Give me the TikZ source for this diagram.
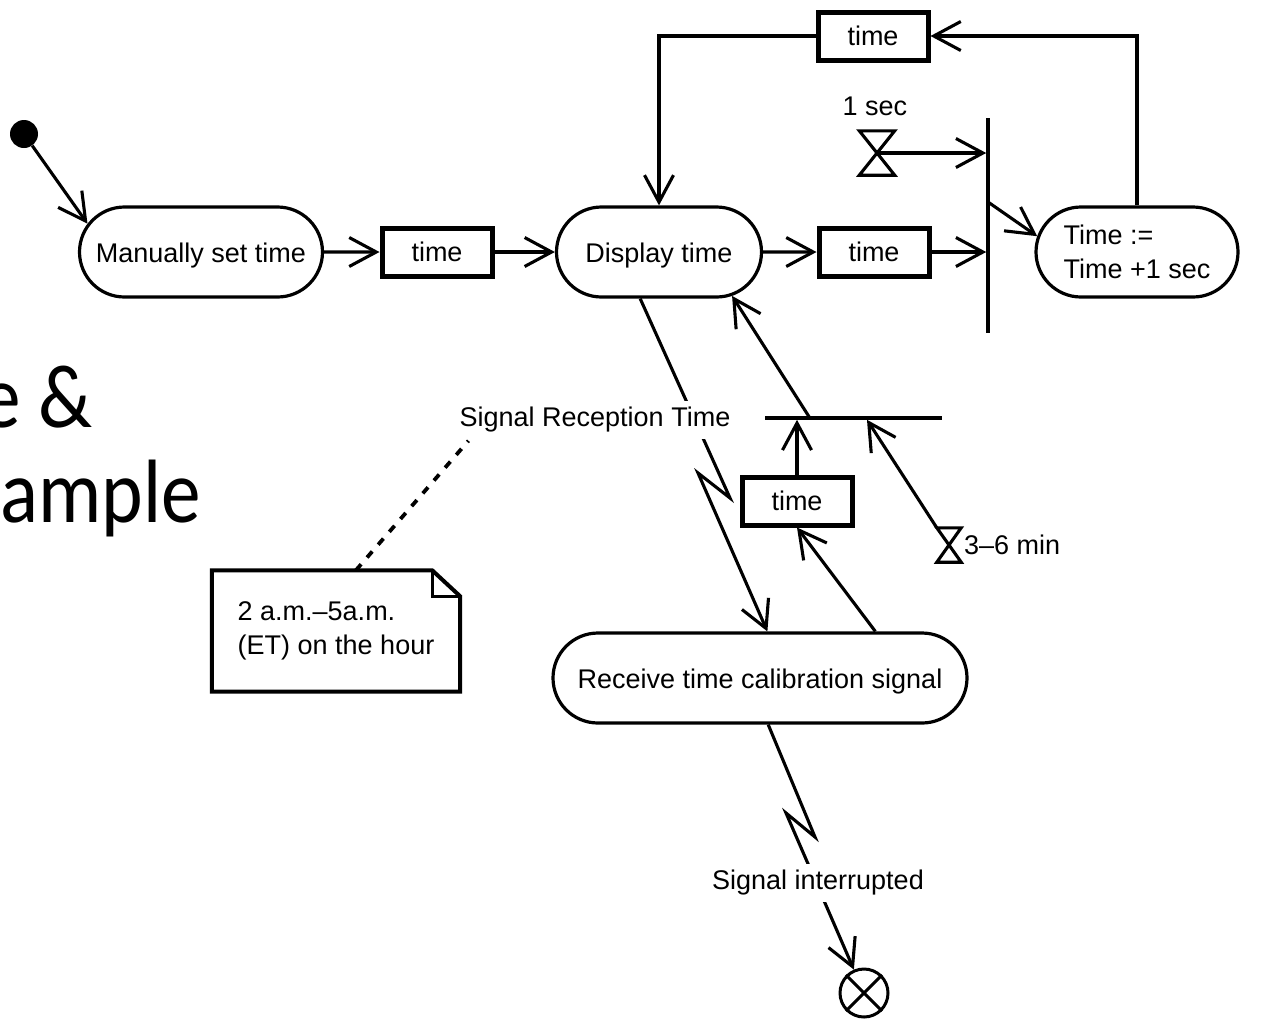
\documentclass[tikz,border=0pt]{standalone}
\usepackage{fontspec}
\setmainfont{Liberation Sans}
\newfontfamily\titlefont{Carlito}
\usetikzlibrary{arrows.meta,shapes.misc,calc}
\begin{document}
\begin{tikzpicture}[x=1pt,y=-1pt,
  every node/.style={font=\fontsize{27}{34}\selectfont},
  action/.style={draw, line width=3.2pt, rounded rectangle, rounded rectangle arc length=180, minimum height=90pt, inner sep=0pt},
  oneline/.style={text height=26pt, text depth=6pt},
  objbox/.style={draw, line width=5pt, rectangle, minimum width=110pt, minimum height=48pt, inner sep=0pt},
  conn/.style={line width=3.1pt},
  arr/.style={conn, -{Straight Barb[length=27pt,width=29pt]}},
  bar/.style={fill=black, draw=none, inner sep=0pt},
  hglass/.style={draw=none, inner sep=0pt},
  lbl/.style={fill=white, inner sep=6pt},
  titletext/.style={font=\titlefont\fontsize{90}{110}\selectfont, anchor=base east, inner sep=0pt, xscale=0.88, transform shape},
]
\useasboundingbox (0,0) rectangle (1263,1034);
\clip (0,0) rectangle (1263,1034);

% title fragments
\node[titletext] (tt1) at (93,427) {e \&};
\node[titletext] (tt2) at (201,522) {ample};

% nodes
\node[circle, fill=black, minimum size=28pt, inner sep=0pt] (init) at (24,134) {};
\node[action, oneline, minimum width=243pt] (man) at (201,252) {Manually set time};
\node[objbox] (t1) at (437,252) {time};
\node[action, oneline, minimum width=205pt] (disp) at (659,252) {Display time};
\node[objbox] (t2) at (874,252) {time};
\node[objbox] (t3) at (873,36) {time};
\node[objbox] (t4) at (797,501) {time};
\node[action, minimum width=202pt, align=left] (incr) at (1137,252) {Time :=\\Time +1 sec};
\node[action, oneline, minimum width=414pt] (recv) at (760,678) {Receive time calibration signal};
\node[bar, minimum width=3.2pt, minimum height=215pt] (fork) at (988,225.5) {};
\node[bar, minimum width=177pt, minimum height=3.2pt] (join) at (853.5,418) {};
\node[hglass, minimum width=35pt, minimum height=44pt] (hg1) at (877,153) {};
\node[hglass, minimum width=24pt, minimum height=34pt] (hg2) at (949,545) {};
\draw[conn, line join=miter] (hg1.north west) -- (hg1.north east) -- (hg1.south west) -- (hg1.south east) -- cycle;
\draw[conn, line join=miter] (hg2.north west) -- (hg2.north east) -- (hg2.south west) -- (hg2.south east) -- cycle;
\node (s1) at (875,106) {1 sec};
\node[anchor=west, inner sep=2pt] (s36) at (962,545) {3--6 min};
\node[circle, draw, line width=3pt, minimum size=48pt, inner sep=0pt] (fin) at (864,993) {};
\draw[conn] (fin.45) -- (fin.225) (fin.135) -- (fin.315);

% note
\node[minimum width=248pt, minimum height=121pt, align=left, inner sep=0pt] (note) at (336,631) {2 a.m.--5a.m.\\(ET) on the hour};
\draw[line width=4pt, line join=miter] (note.north west) -- ($(note.north east)+(-28,0)$) -- ($(note.north east)+(0,26)$) -- (note.south east) -- (note.south west) -- cycle;
\draw[line width=3.2pt] ($(note.north east)+(-28,0)$) |- ($(note.north east)+(0,26)$);

% connectors
\draw[arr] (init) -- (man.166);
\draw[arr] (man) -- (t1);
\draw[arr] (t1) -- (disp);
\draw[arr] (disp) -- (t2);
\draw[arr] (t2) -- (t2 -| fork.west);
\draw[arr] (hg1.center) -- (hg1 -| fork.west);
\coordinate (fk) at (988,202);
\draw[arr] (fk) -- (incr.171);
\draw[arr] (incr.north) |- (t3.east);
\draw[arr] (t3.west) -| (disp.north);
\draw[arr] (disp.248) -- (730,498) -- (698,473) -- (recv.81);
\draw[arr] (recv.22) -- (t4.south);
\draw[arr] (t4.north) -- (t4.north |- join.south);
\draw[arr] (hg2.north west) -- ($(join.south west)!0.576!(join.south east)$);
\draw[arr] ($(join.west)!0.254!(join.east)$) -- (disp.329);
\draw[arr] (recv.280) -- (815,837) -- (786,813) -- (fin);

% labels on connectors
\node[lbl] (srt) at (595,420) {Signal Reception Time};
\node[lbl] (sint) at (818,883) {Signal interrupted};
\draw[line width=3.8pt, dash pattern=on 8pt off 9pt] ($(note.north west)!0.58!(note.north east)$) -- ($(srt.south west)+(15,2)$);
\end{tikzpicture}
\end{document}
